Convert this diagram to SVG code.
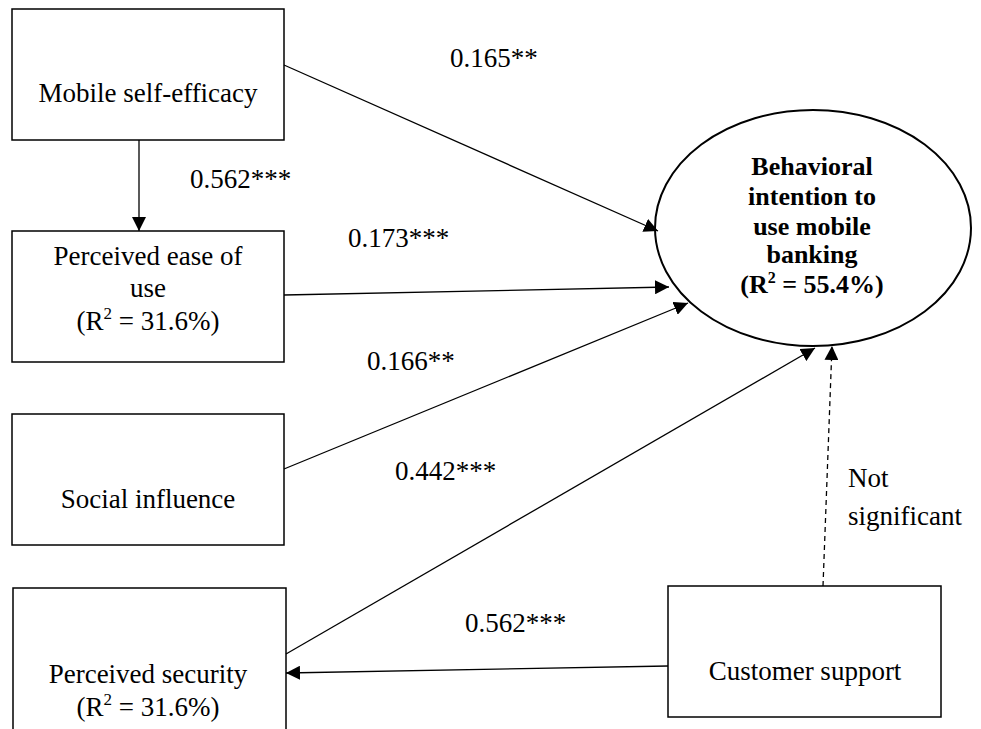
<svg xmlns="http://www.w3.org/2000/svg" width="981" height="729" viewBox="0 0 981 729">
<style>
.box{fill:#fff;stroke:#000;stroke-width:1.5}
.t{font-family:"Liberation Serif","Times New Roman",serif;font-size:27px;fill:#000}
.c{text-anchor:middle}
.b{font-weight:bold;font-size:26px}
.ln{stroke:#000;stroke-width:1.3;fill:none;marker-end:url(#ah)}
.dash{stroke-dasharray:5,4}
</style>
<defs>
<marker id="ah" markerUnits="userSpaceOnUse" markerWidth="15" markerHeight="14" refX="14" refY="7" orient="auto">
<path d="M0,0 L14,7 L0,14 z" fill="#000"/>
</marker>
</defs>
<rect width="981" height="729" fill="#fff"/>
<g id="mse">
<rect class="box" x="12" y="9" width="272" height="131"/>
<text class="t c" x="148" y="102">Mobile self-efficacy</text>
</g>
<g id="peou">
<rect class="box" x="12" y="231" width="272" height="131"/>
<text class="t c" x="148" y="265">Perceived ease of</text>
<text class="t c" x="148" y="297">use</text>
<text class="t c" x="148" y="330">(R<tspan font-size="17" dy="-11">2</tspan><tspan dy="11"> = 31.6%)</tspan></text>
</g>
<g id="si">
<rect class="box" x="12" y="414" width="272" height="131"/>
<text class="t c" x="148" y="508">Social influence</text>
</g>
<g id="ps">
<rect class="box" x="13" y="588" width="273" height="160"/>
<text class="t c" x="148" y="683">Perceived security</text>
<text class="t c" x="148" y="716">(R<tspan font-size="17" dy="-11">2</tspan><tspan dy="11"> = 31.6%)</tspan></text>
</g>
<g id="cs">
<rect class="box" x="668" y="586" width="273" height="131"/>
<text class="t c" x="805" y="680">Customer support</text>
</g>
<g id="bi">
<ellipse cx="813" cy="228" rx="158" ry="118" fill="#fff" stroke="#000" stroke-width="2"/>
<text class="t b c" x="812" y="175">Behavioral</text>
<text class="t b c" x="812" y="205">intention to</text>
<text class="t b c" x="812" y="235">use mobile</text>
<text class="t b c" x="812" y="263">banking</text>
<text class="t b c" x="812" y="293">(R<tspan font-size="16" dy="-10">2</tspan><tspan dy="10"> = 55.4%)</tspan></text>
</g>
<g id="connectors">
<line class="ln" x1="139" y1="140" x2="139" y2="231"/>
<line class="ln" x1="284" y1="65" x2="658" y2="231"/>
<line class="ln" x1="284" y1="295" x2="669" y2="287"/>
<line class="ln" x1="284" y1="469" x2="688" y2="303"/>
<line class="ln" x1="286" y1="654" x2="815" y2="348"/>
<line class="ln dash" x1="823" y1="586" x2="832" y2="346"/>
<line class="ln" x1="668" y1="666" x2="286" y2="673"/>
</g>
<g id="labels">
<text class="t" x="450" y="67">0.165**</text>
<text class="t" x="190" y="188">0.562***</text>
<text class="t" x="348" y="247">0.173***</text>
<text class="t" x="367" y="370">0.166**</text>
<text class="t" x="395" y="480">0.442***</text>
<text class="t" x="465" y="632">0.562***</text>
<text class="t" x="848" y="487">Not</text>
<text class="t" x="848" y="525">significant</text>
</g>
</svg>
